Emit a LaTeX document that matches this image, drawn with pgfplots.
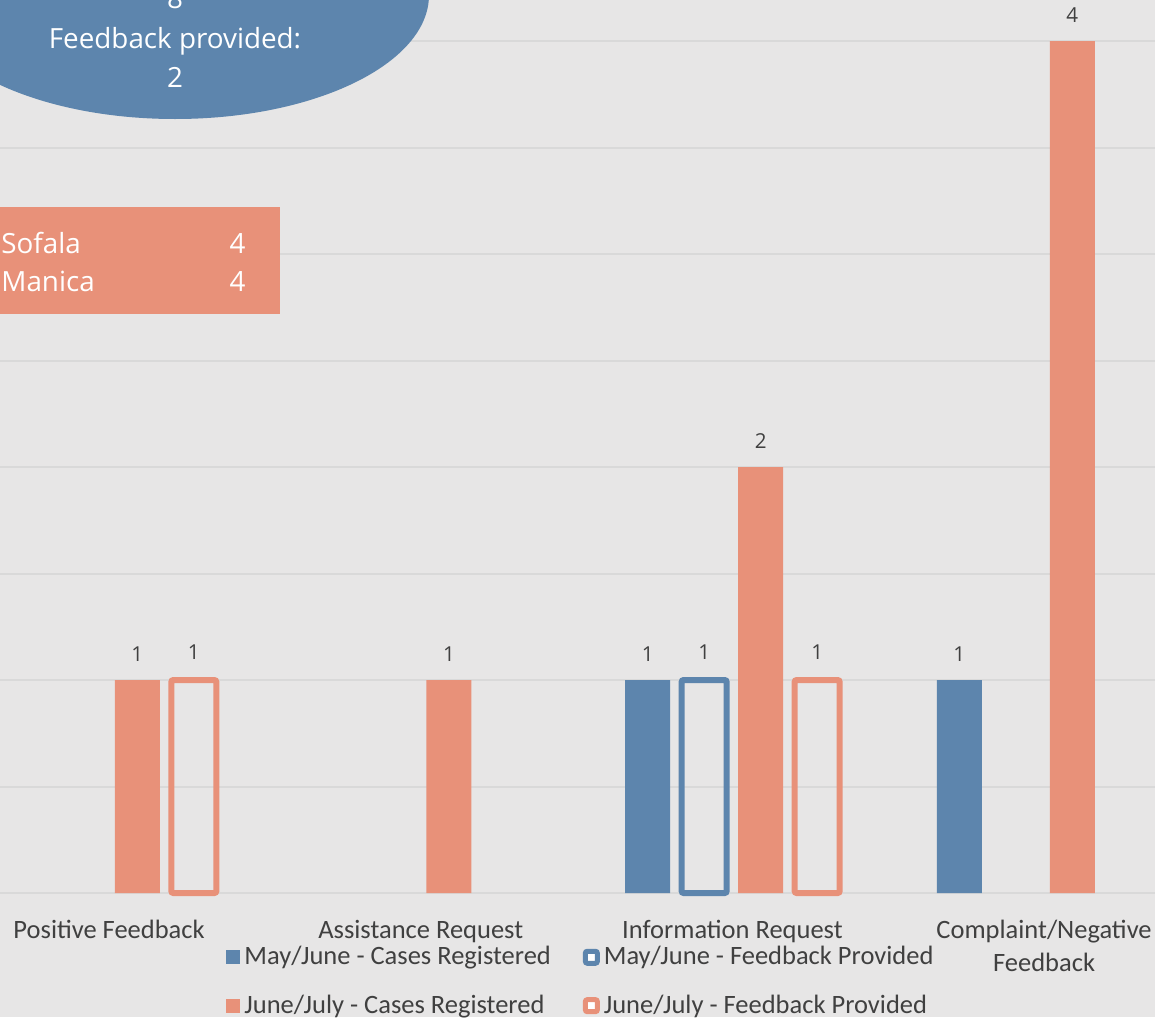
\documentclass[border=0pt]{standalone}
\usepackage{fontspec}
\setmainfont{Carlito}
\newfontfamily\osans{Open Sans}
\usepackage{pgfplots}
\pgfplotsset{compat=1.18}
\definecolor{cblue}{HTML}{5D85AD}
\definecolor{corange}{HTML}{E89179}
\definecolor{cbg}{HTML}{E7E6E6}
\definecolor{cgrid}{HTML}{D9D9D9}
\definecolor{ctext}{HTML}{404040}
\begin{document}
\begin{tikzpicture}
\useasboundingbox (0pt,0pt) rectangle (577.5pt,-508.5pt);
\clip (0pt,0pt) rectangle (577.5pt,-508.5pt);
\fill[cbg] (0pt,0pt) rectangle (577.5pt,-508.5pt);
\begin{axis}[
  at={(0pt,-446.5pt)}, anchor=south west,
  scale only axis, width=577.5pt, height=426pt,
  xmin=-0.35, xmax=3.356, ymin=0, ymax=4,
  enlargelimits=false, clip=false,
  ybar=5.75pt, bar width=22.5pt,
  axis line style={draw=none},
  major tick length=0pt,
  ytick={0,0.5,...,4}, yticklabels={},
  ymajorgrids, grid style={cgrid, line width=1pt},
  xtick={0,1,2,3},
  xticklabels={Positive Feedback, Assistance Request, Information Request, {Complaint/Negative\\Feedback}},
  xticklabel style={align=center, font=\fontsize{13.25}{16.5}\selectfont, text=ctext, yshift=-10pt},
  /pgf/number format/assume math mode=true,
  nodes near coords,
  every node near coord/.append style={font=\osans\fontsize{10.3}{12}\selectfont, text=ctext, yshift=5.5pt},
  legend columns=2,
  legend cell align=left,
  legend style={at={(0.1905,-0.053)}, anchor=north west, draw=none, fill=none,
    font=\fontsize{13.25}{16}\selectfont, text=ctext, row sep=9.5pt,
    /tikz/every even column/.append style={column sep=14pt}},
]
\addplot[fill=cblue, draw=none,
  legend image code/.code={\fill[cblue] (0pt,-3.5pt) rectangle (7pt,3.5pt);}]
  coordinates {(2,1) (3,1)};
\addlegendentry{May/June - Cases Registered}
\addplot[draw=cblue, fill=none, line width=3pt, rounded corners=1pt,
  legend image code/.code={\draw[cblue, line width=2.5pt, fill=white, rounded corners=1pt] (1.25pt,-3pt) rectangle (7.25pt,3pt);}]
  coordinates {(2,1)};
\addlegendentry{May/June - Feedback Provided}
\addplot[fill=corange, draw=none,
  legend image code/.code={\fill[corange] (0pt,-3.5pt) rectangle (7pt,3.5pt);}]
  coordinates {(0,1) (1,1) (2,2) (3,4)};
\addlegendentry{June/July - Cases Registered}
\addplot[draw=corange, fill=none, line width=3pt, rounded corners=1pt,
  legend image code/.code={\draw[corange, line width=2.5pt, fill=white, rounded corners=1pt] (1.25pt,-3pt) rectangle (7.25pt,3pt);}]
  coordinates {(0,1) (2,1)};
\addlegendentry{June/July - Feedback Provided}
\end{axis}
\begin{scope}[x=0.5pt,y=-0.5pt]
\fill[cblue] (175,-5) ellipse [x radius=127pt, y radius=62pt];
\begin{scope}[every node/.style={text=white, font=\osans\fontsize{13.9}{16}\selectfont, inner sep=0pt}]
\node[anchor=base] at (175,-30) {Cases registered:};
\node[anchor=base] at (175,9) {8};
\node[anchor=base] at (175,48) {Feedback provided:};
\node[anchor=base] at (175,87) {2};
\fill[corange] (-10,207) rectangle (280,314);
\node[anchor=base west] at (1,253) {Sofala};
\node[anchor=base] at (237.5,253) {4};
\node[anchor=base west] at (1,291) {Manica};
\node[anchor=base] at (237.5,291) {4};
\end{scope}
\end{scope}
\end{tikzpicture}
\end{document}
